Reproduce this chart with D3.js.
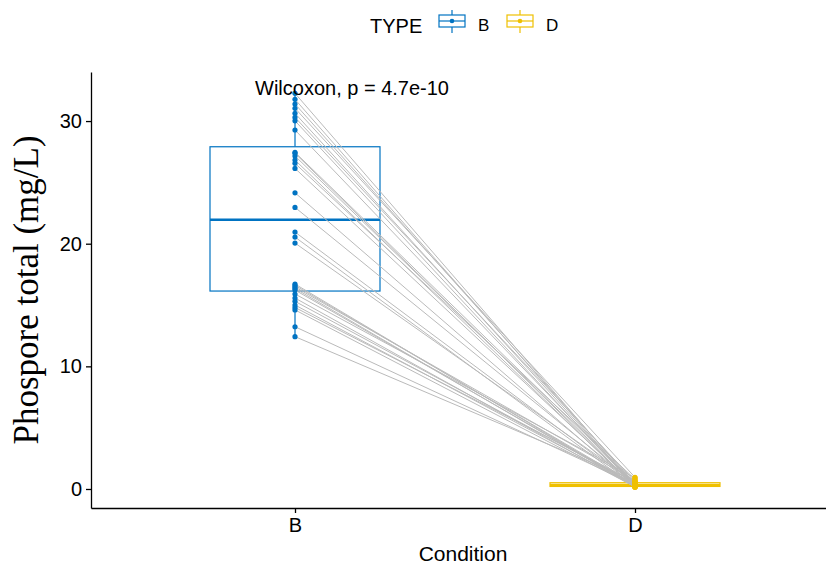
<!DOCTYPE html>
<html>
<head>
<meta charset="utf-8">
<script src="https://cdn.jsdelivr.net/npm/d3@7"></script>
<style>
  body { margin: 0; background: #fff; }
  text { font-family: "Liberation Sans", Arial, sans-serif; }
</style>
</head>
<body>
<script>
// paired values, one entry per sample (same order in both arrays)
var conditions = ["B", "D"];
var valuesB = [32.26, 31.77, 31.39, 31.04, 30.63, 30.30, 30.02, 29.27, 27.45, 27.37,
               27.15, 26.82, 26.55, 26.14, 24.15, 22.96, 20.95, 20.54, 20.05, 16.71,
               16.6, 16.47, 16.35, 16.22, 15.9, 15.57, 15.3, 15.0, 14.8, 14.6, 13.23, 12.42];
var valuesD = [0.3, 0.2, 0.45, 0.95, 0.26, 0.6, 0.19, 0.33, 0.5, 0.21,
               0.38, 0.17, 0.8, 0.28, 0.2, 0.42, 0.3, 0.15, 0.55, 0.24,
               0.36, 0.7, 0.2, 0.31, 0.9, 0.16, 0.4, 0.27, 0.58, 0.18, 0.35, 0.65];
var yTicks = [0, 10, 20, 30];
var colors = { B: "#0073C2", D: "#EFC000" };
var testLabel = "Wilcoxon, p = 4.7e-10";

var w = 826, h = 566;
var svg = d3.select("body").append("svg").attr("width", w).attr("height", h);

// panel
var panelLeft = 91, panelTop = 72, panelBottom = 508;
var x = d3.scaleLinear().domain([0.4, 2.6]).range([panelLeft, panelLeft + 2.2 * 340]);
var y = d3.scaleLinear().domain([-1.55, 34.0]).range([panelBottom, panelTop]);
var boxHalf = 85;

function stats(vals) {
  var s = vals.slice().sort(d3.ascending);
  var q1 = d3.quantile(s, 0.25), med = d3.quantile(s, 0.5), q3 = d3.quantile(s, 0.75);
  var iqr = q3 - q1;
  var lo = d3.min(s.filter(function(v) { return v >= q1 - 1.5 * iqr; }));
  var hi = d3.max(s.filter(function(v) { return v <= q3 + 1.5 * iqr; }));
  return { q1: q1, med: med, q3: q3, lo: lo, hi: hi };
}

var groups = [
  { key: "B", pos: 1, vals: valuesB },
  { key: "D", pos: 2, vals: valuesD }
];

// boxplots
groups.forEach(function(g) {
  var s = stats(g.vals);
  var cx = x(g.pos), col = colors[g.key];
  var gb = svg.append("g");
  gb.append("line").attr("x1", cx).attr("x2", cx).attr("y1", y(s.hi)).attr("y2", y(s.q3))
    .attr("stroke", col).attr("stroke-width", 1.2);
  gb.append("line").attr("x1", cx).attr("x2", cx).attr("y1", y(s.q1)).attr("y2", y(s.lo))
    .attr("stroke", col).attr("stroke-width", 1.2);
  gb.append("rect").attr("x", cx - boxHalf).attr("width", boxHalf * 2)
    .attr("y", y(s.q3)).attr("height", y(s.q1) - y(s.q3))
    .attr("fill", "white").attr("stroke", col).attr("stroke-width", 1.2);
  gb.append("line").attr("x1", cx - boxHalf).attr("x2", cx + boxHalf)
    .attr("y1", y(s.med)).attr("y2", y(s.med))
    .attr("stroke", col).attr("stroke-width", 2.6);
});

// paired lines
svg.append("g").selectAll("line").data(valuesB).enter().append("line")
  .attr("x1", x(1)).attr("y1", function(d) { return y(d); })
  .attr("x2", x(2)).attr("y2", function(d, i) { return y(valuesD[i]); })
  .attr("stroke", "#bababa").attr("stroke-width", 1);

// points
groups.forEach(function(g) {
  svg.append("g").selectAll("circle").data(g.vals).enter().append("circle")
    .attr("cx", x(g.pos)).attr("cy", function(d) { return y(d); })
    .attr("r", 2.6).attr("fill", colors[g.key]);
});

// axes
var yAxis = svg.append("g").attr("transform", "translate(" + panelLeft + ",0)")
  .call(d3.axisLeft(y).tickValues(yTicks).tickSize(5).tickSizeOuter(0));
yAxis.select(".domain").attr("stroke", "black").attr("stroke-width", 1.3);
yAxis.selectAll(".tick line").attr("stroke", "black").attr("stroke-width", 1.3);
yAxis.selectAll(".tick text").attr("font-size", 20).attr("fill", "black")
  .attr("font-family", "Liberation Sans, Arial, sans-serif").attr("x", -9);

var xAxis = svg.append("g").attr("transform", "translate(0," + panelBottom + ")")
  .call(d3.axisBottom(x).tickValues([1, 2]).tickFormat(function(d) { return conditions[d - 1]; })
    .tickSize(5).tickSizeOuter(0));
xAxis.select(".domain").attr("stroke", "black").attr("stroke-width", 1.3);
xAxis.selectAll(".tick line").attr("stroke", "black").attr("stroke-width", 1.3);
xAxis.selectAll(".tick text").attr("font-size", 20).attr("fill", "black")
  .attr("font-family", "Liberation Sans, Arial, sans-serif").attr("y", 10);

// titles
svg.append("text").attr("x", 463).attr("y", 561).attr("text-anchor", "middle")
  .attr("font-size", 21).attr("fill", "black").text("Condition");
svg.append("text").attr("transform", "translate(38,290) rotate(-90)")
  .attr("text-anchor", "middle").attr("font-size", 35)
  .style("font-family", "Liberation Serif, Times New Roman, serif")
  .attr("fill", "black").text("Phospore total (mg/L)");

// test label
svg.append("text").attr("x", 255).attr("y", 95).attr("font-size", 20)
  .attr("fill", "black").text(testLabel);

// legend
svg.append("text").attr("x", 370).attr("y", 33).attr("font-size", 20)
  .attr("fill", "black").text("TYPE");
var legendX = { B: 452, D: 520 };
conditions.forEach(function(c) {
  var cx = legendX[c], col = colors[c];
  var lg = svg.append("g");
  lg.append("line").attr("x1", cx).attr("x2", cx).attr("y1", 10).attr("y2", 33)
    .attr("stroke", col).attr("stroke-width", 1.2);
  lg.append("rect").attr("x", cx - 13).attr("y", 15).attr("width", 26).attr("height", 12)
    .attr("fill", "white").attr("stroke", col).attr("stroke-width", 1.2);
  lg.append("line").attr("x1", cx - 13).attr("x2", cx + 13).attr("y1", 21).attr("y2", 21)
    .attr("stroke", col).attr("stroke-width", 1.2);
  lg.append("circle").attr("cx", cx).attr("cy", 21).attr("r", 2.3).attr("fill", col);
  lg.append("text").attr("x", cx + 26).attr("y", 31).attr("font-size", 17)
    .attr("fill", "black").text(c);
});
</script>
</body>
</html>
